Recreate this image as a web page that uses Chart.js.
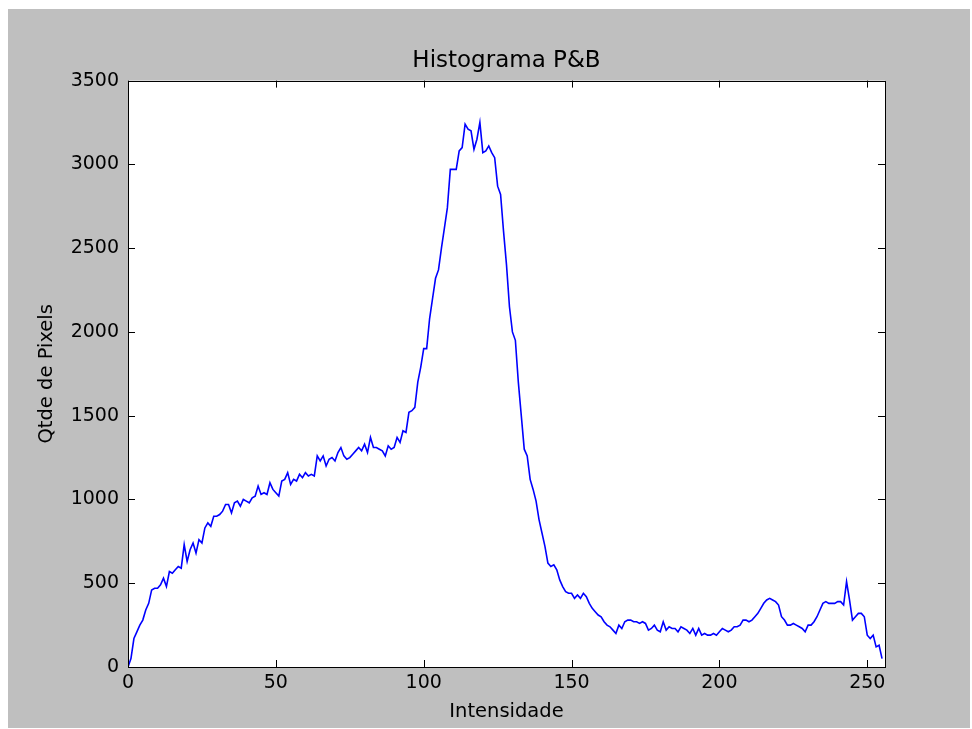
<!DOCTYPE html>
<html>
<head>
<meta charset="utf-8">
<script src="https://cdn.jsdelivr.net/npm/chart.js@4/dist/chart.umd.min.js"></script>
<style>
  html, body { margin: 0; padding: 0; background: #fff; }
  #fundo { position: absolute; left: 8px; top: 9px; width: 962px; height: 719px; background: #bfbfbf; }
  canvas { display: block; }
</style>
</head>
<body>
<div id="fundo"><canvas id="hist" width="962" height="719"></canvas></div>
<script>
// contagem de pixels por intensidade (0..255)
const contagem = [
  0, 50, 170, 210, 250, 280, 340, 380, 460, 470,
  470, 490, 530, 480, 570, 560, 580, 600, 590, 730,
  630, 700, 740, 680, 760, 740, 830, 860, 840, 900,
  900, 910, 930, 970, 970, 920, 980, 990, 960, 1000,
  990, 980, 1010, 1020, 1080, 1030, 1040, 1030, 1100, 1060,
  1040, 1020, 1110, 1120, 1160, 1090, 1120, 1110, 1150, 1130,
  1160, 1140, 1150, 1140, 1260, 1230, 1260, 1200, 1240, 1250,
  1230, 1280, 1310, 1260, 1240, 1250, 1270, 1290, 1310, 1290,
  1330, 1280, 1370, 1310, 1310, 1300, 1290, 1260, 1320, 1300,
  1310, 1370, 1340, 1410, 1400, 1520, 1530, 1550, 1700, 1790,
  1900, 1900, 2080, 2200, 2320, 2370, 2500, 2620, 2740, 2970,
  2970, 2970, 3080, 3100, 3240, 3210, 3200, 3090, 3150, 3250,
  3070, 3080, 3110, 3070, 3040, 2870, 2820, 2600, 2400, 2150,
  2000, 1950, 1700, 1500, 1300, 1260, 1120, 1060, 990, 880,
  800, 720, 620, 600, 610, 580, 520, 480, 450, 440,
  440, 410, 430, 410, 440, 420, 380, 350, 330, 310,
  300, 270, 250, 240, 220, 200, 250, 230, 270, 280,
  280, 270, 270, 260, 270, 260, 220, 230, 250, 220,
  210, 270, 220, 240, 230, 230, 210, 240, 230, 220,
  200, 230, 190, 230, 190, 200, 190, 190, 200, 190,
  210, 230, 220, 210, 220, 240, 240, 250, 280, 280,
  270, 280, 300, 320, 350, 380, 400, 410, 400, 390,
  370, 300, 280, 250, 250, 260, 250, 240, 230, 210,
  250, 250, 270, 300, 340, 380, 390, 380, 380, 380,
  390, 390, 370, 510, 400, 280, 300, 320, 320, 300,
  190, 170, 190, 120, 130, 50
];
const intensidades = contagem.map((_, i) => i);
const ticksX = [0, 50, 100, 150, 200, 250];
const ticksY = [0, 500, 1000, 1500, 2000, 2500, 3000, 3500];

const fonte = 'DejaVu Sans';

// ticks para dentro e moldura, estilo matplotlib classico
const molduraPlugin = {
  id: 'moldura',
  afterDatasetsDraw(chart) {
    const { ctx, chartArea: a, scales } = chart;
    const tl = 7;
    ctx.save();
    ctx.strokeStyle = '#000';
    ctx.lineWidth = 1;
    ctx.beginPath();
    ticksX.forEach(v => {
      const x = Math.round(scales.x.getPixelForValue(v)) + 0.5;
      ctx.moveTo(x, a.bottom); ctx.lineTo(x, a.bottom - tl);
      ctx.moveTo(x, a.top); ctx.lineTo(x, a.top + tl);
    });
    ticksY.forEach(v => {
      const y = Math.round(scales.y.getPixelForValue(v)) + 0.5;
      ctx.moveTo(a.left, y); ctx.lineTo(a.left + tl, y);
      ctx.moveTo(a.right, y); ctx.lineTo(a.right - tl, y);
    });
    ctx.stroke();
    ctx.strokeRect(Math.round(a.left) + 0.5, Math.round(a.top) + 0.5,
                   Math.round(a.right - a.left), Math.round(a.bottom - a.top));
    ctx.restore();
  }
};

const fundoPlot = {
  id: 'fundoPlot',
  beforeDraw(chart) {
    const { ctx, chartArea: a } = chart;
    ctx.save();
    ctx.fillStyle = '#fff';
    ctx.fillRect(a.left, a.top, a.right - a.left, a.bottom - a.top);
    ctx.restore();
  }
};

new Chart(document.getElementById('hist'), {
  type: 'line',
  data: {
    labels: intensidades,
    datasets: [{
      data: contagem,
      borderColor: '#0000ff',
      borderWidth: 1.6,
      pointRadius: 0,
      tension: 0,
      fill: false
    }]
  },
  options: {
    responsive: false,
    animation: false,
    layout: { padding: { left: 0, right: 85, top: 0, bottom: 0 } },
    plugins: {
      legend: { display: false },
      tooltip: { enabled: false },
      title: {
        display: true,
        fullSize: false,
        text: 'Histograma P&B',
        color: '#000',
        font: { family: fonte, size: 23, weight: 'normal' },
        padding: { top: 38, bottom: 6 }
      }
    },
    scales: {
      x: {
        type: 'linear',
        min: 0,
        max: 256,
        afterFit: s => { s.height = 61; },
        grid: { display: false, drawTicks: false },
        border: { display: false },
        ticks: {
          stepSize: 50,
          includeBounds: false,
          color: '#000',
          padding: 5,
          maxRotation: 0,
          font: { family: fonte, size: 19 },
          callback: v => String(v)
        },
        title: {
          display: true,
          text: 'Intensidade',
          color: '#000',
          font: { family: fonte, size: 19.5 },
          padding: { top: 0, bottom: 4 }
        }
      },
      y: {
        min: 0,
        max: 3500,
        afterFit: s => { s.width = 120; },
        grid: { display: false, drawTicks: false },
        border: { display: false },
        ticks: {
          stepSize: 500,
          color: '#000',
          padding: 9,
          font: { family: fonte, size: 19 },
          callback: v => String(v)
        },
        title: {
          display: true,
          text: 'Qtde de Pixels',
          color: '#000',
          font: { family: fonte, size: 19.5 },
          padding: { top: 27, bottom: 0 }
        }
      }
    }
  },
  plugins: [fundoPlot, molduraPlugin]
});
</script>
</body>
</html>
